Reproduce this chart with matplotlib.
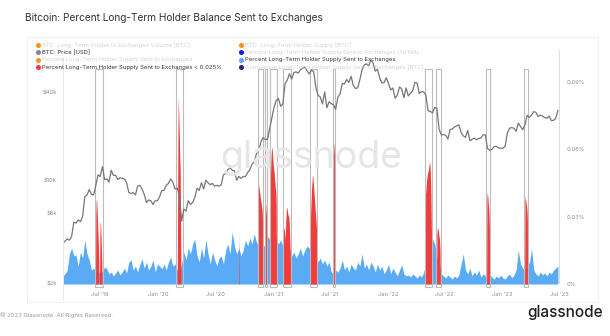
import matplotlib
matplotlib.use('Agg')
import matplotlib.pyplot as plt
import matplotlib.transforms as mtransforms
from matplotlib.patches import Rectangle
from matplotlib.lines import Line2D
import pandas as pd

plt.rcParams['font.family'] = ['Inter', 'DejaVu Sans']

# weekly BTC price (USD), Mondays from 2019-03-04
price = [
    3720, 3870, 4000, 3930, 4150, 5200, 5150, 5400, 5250, 5700, 7800, 8000, 8700,
    8100, 8000, 9300, 11000, 10700, 12500, 10200, 10300, 9800, 11800, 10900, 10900,
    10200, 10500, 10400, 10300, 9700, 8300, 8200, 8300, 8000, 9200, 9300, 8800, 8100,
    7100, 7400, 7300, 6900, 7300, 7300,
    # 2020
    7800, 8600, 8600, 9300, 9600, 10300, 9800, 8800, 8900, 7900, 5300, 6400, 6200,
    7300, 6900, 7100, 7700, 8900, 8600, 9700, 8800, 10100, 9700, 9400, 9600, 9200,
    9300, 9200, 9400, 11000, 11200, 11900, 12300, 11800, 11700, 10100, 10700, 10400,
    10700, 10700, 11400, 11900, 13000, 13500, 15300, 16000, 18400, 19700, 19200,
    19200, 22800, 27000,
    # 2021
    31900, 35500, 36600, 32300, 33500, 46200, 48700, 54000, 49600, 54900, 55600,
    54500, 57700, 58700, 59800, 56400, 53800, 57000, 55800, 43500, 38400, 37400,
    33500, 40500, 31600, 34700, 33700, 33100, 30800, 37300, 39200, 46300, 45900,
    49300, 47000, 51800, 44900, 42800, 43200, 49200, 57400, 62000, 63100, 61000,
    66900, 63900, 56200, 57800, 50500, 46700, 46900, 50700,
    # 2022
    46400, 41800, 43100, 36700, 38500, 43800, 42500, 37000, 43200, 38000, 39700,
    41300, 47100, 46600, 39500, 40800, 40400, 38500, 30100, 29800, 29100, 31800,
    31300, 22500, 20600, 20700, 20500, 19300, 22400, 22600, 23300, 23800, 24100,
    21400, 20300, 19800, 22100, 18800, 19200, 19600, 19100, 19500, 19600, 20600,
    20600, 16600, 16200, 16400, 17100, 17200, 16800, 16700,
    # 2023
    16700, 17200, 21200, 22900, 23100, 22900, 21800, 24800, 23500, 22400, 24100,
    28000, 27100, 28200, 29700, 29400, 27500, 28100, 27700, 27000, 26800, 27700,
    25800, 25900, 26800, 30300,
]

# weekly percent of LTH supply sent to exchanges (%)
lth_sent_pct = [
    0.0036, 0.0045, 0.0062, 0.0134, 0.0160, 0.0125, 0.0129, 0.0080, 0.0142, 0.0116,
    0.0196, 0.0134, 0.0107, 0.0062, 0.0071, 0.0053, 0.0045, 0.0062, 0.0053, 0.0076,
    0.0067, 0.0045, 0.0053, 0.0036, 0.0049, 0.0062, 0.0040, 0.0053, 0.0071, 0.0049,
    0.0098, 0.0107, 0.0062, 0.0080, 0.0053, 0.0089, 0.0111, 0.0071, 0.0098, 0.0062,
    0.0080, 0.0107, 0.0053, 0.0089, 0.0080, 0.0067, 0.0089, 0.0062, 0.0098, 0.0120,
    0.0080, 0.0089, 0.0062, 0.0053, 0.0089, 0.0142, 0.0107, 0.0160, 0.0134, 0.0178,
    0.0200, 0.0125, 0.0098, 0.0160, 0.0116, 0.0196, 0.0134, 0.0089, 0.0142, 0.0107,
    0.0080, 0.0116, 0.0125, 0.0089, 0.0151, 0.0178, 0.0134, 0.0231, 0.0169, 0.0134,
    0.0160, 0.0125, 0.0151, 0.0196, 0.0169, 0.0205, 0.0178, 0.0223, 0.0187, 0.0169,
    0.0200, 0.0178, 0.0160, 0.0214, 0.0196, 0.0187, 0.0223, 0.0205, 0.0178, 0.0196,
    0.0169, 0.0187, 0.0214, 0.0160, 0.0125, 0.0142, 0.0116, 0.0134, 0.0160, 0.0125,
    0.0151, 0.0169, 0.0160, 0.0142, 0.0165, 0.0134, 0.0098, 0.0116, 0.0089, 0.0107,
    0.0080, 0.0098, 0.0053, 0.0045, 0.0062, 0.0053, 0.0071, 0.0107, 0.0062, 0.0080,
    0.0053, 0.0089, 0.0071, 0.0062, 0.0098, 0.0080, 0.0134, 0.0071, 0.0089, 0.0062,
    0.0098, 0.0080, 0.0053, 0.0089, 0.0062, 0.0080, 0.0045, 0.0062, 0.0089, 0.0045,
    0.0071, 0.0053, 0.0036, 0.0062, 0.0085, 0.0045, 0.0036, 0.0040, 0.0031, 0.0045,
    0.0036, 0.0027, 0.0040, 0.0031, 0.0053, 0.0089, 0.0134, 0.0169, 0.0200, 0.0178,
    0.0120, 0.0098, 0.0045, 0.0036, 0.0027, 0.0040, 0.0031, 0.0022, 0.0036, 0.0027,
    0.0040, 0.0089, 0.0134, 0.0062, 0.0045, 0.0071, 0.0036, 0.0053, 0.0040, 0.0062,
    0.0031, 0.0045, 0.0036, 0.0027, 0.0045, 0.0031, 0.0022, 0.0036, 0.0027, 0.0040,
    0.0027, 0.0022, 0.0036, 0.0045, 0.0027, 0.0040, 0.0062, 0.0151, 0.0089, 0.0071,
    0.0053, 0.0120, 0.0089, 0.0160, 0.0062, 0.0045, 0.0036, 0.0053, 0.0040, 0.0049,
    0.0036, 0.0053, 0.0045, 0.0062, 0.0071, 0.0080,
]

# daily runs where the metric is flagged (< 0.025% signal), first day + values (%)
red_starts = ['2019-06-17', '2019-06-30', '2020-03-03', '2020-09-15', '2020-11-14',
              '2020-12-06', '2020-12-22', '2021-02-02', '2021-04-29', '2021-07-10',
              '2022-05-01', '2022-06-06', '2022-11-12', '2023-03-13']
red_values = [
    [0.030, 0.036, 0.038, 0.037, 0.034, 0.030, 0.026, 0.022, 0.018, 0.012],
    [0.022, 0.028, 0.027, 0.024, 0.020, 0.015, 0.010],
    [0.030, 0.060, 0.083, 0.080, 0.075, 0.070, 0.065, 0.050, 0.060, 0.040, 0.020],
    [0.024],
    [0.040, 0.045, 0.044, 0.043, 0.042, 0.041, 0.040, 0.039, 0.038, 0.037, 0.036,
     0.035, 0.034, 0.033, 0.030, 0.020],
    [0.030, 0.037, 0.036, 0.034, 0.032, 0.030, 0.028, 0.025],
    [0.040, 0.045, 0.050, 0.055, 0.058, 0.060, 0.061, 0.060, 0.058, 0.056, 0.054,
     0.052, 0.051, 0.050, 0.048, 0.046, 0.045, 0.043, 0.042, 0.040, 0.035],
    [0.020, 0.023, 0.025, 0.025, 0.024, 0.022, 0.020, 0.022, 0.026, 0.030, 0.033,
     0.034, 0.034, 0.033, 0.032, 0.031, 0.030, 0.031, 0.030, 0.028, 0.025, 0.020,
     0.015, 0.010],
    [0.025, 0.030, 0.034, 0.038, 0.041, 0.044, 0.046, 0.048, 0.0485, 0.047, 0.045,
     0.043, 0.041, 0.039, 0.037, 0.035, 0.033, 0.031, 0.029, 0.027, 0.025, 0.022,
     0.018],
    [0.062, 0.064, 0.063, 0.062, 0.060, 0.058, 0.056, 0.050],
    [0.040, 0.042, 0.044, 0.046, 0.047, 0.048, 0.049, 0.050, 0.050, 0.051, 0.052,
     0.053, 0.054, 0.054, 0.053, 0.050, 0.045, 0.040, 0.030, 0.020, 0.010],
    [0.022, 0.024, 0.025, 0.025, 0.024, 0.023, 0.022, 0.021, 0.020, 0.018, 0.015],
    [0.038, 0.0405, 0.040, 0.039, 0.037, 0.035, 0.033, 0.030, 0.025],
    [0.037, 0.039, 0.038, 0.037, 0.036, 0.035, 0.034, 0.032, 0.028],
]

# highlighted windows
box_starts = ['2019-06-14', '2020-02-26', '2020-11-13', '2020-12-05', '2020-12-21',
              '2021-01-31', '2021-04-27', '2021-07-09', '2022-04-30', '2022-06-04',
              '2022-11-10', '2023-03-11']
box_ends = ['2019-07-09', '2020-03-19', '2020-11-29', '2020-12-14', '2021-01-12',
            '2021-02-26', '2021-05-22', '2021-07-18', '2022-05-22', '2022-06-20',
            '2022-11-23', '2023-03-23']

price_ticks = [2000, 6000, 10000, 40000]
price_labels = ['$2k', '$6k', '$10k', '$40k']
pct_ticks = [0, 0.03, 0.06, 0.09]
pct_labels = ['0%', '0.03%', '0.06%', '0.09%']
date_ticks = ['2019-07-01', '2020-01-01', '2020-07-01', '2021-01-01', '2021-07-01',
              '2022-01-01', '2022-07-01', '2023-01-01', '2023-07-01']
date_labels = ["Jul '19", "Jan '20", "Jul '20", "Jan '21", "Jul '21",
               "Jan '22", "Jul '22", "Jan '23", "Jul '23"]

C_PRICE = '#767676'
C_BLUE = '#5aaaf5'
C_RED = '#f23c3c'
C_BOX = '#bcbcbc'
C_TICK = '#8c8c8c'

W, H = 610, 336
fig = plt.figure(figsize=(W / 100, H / 100), dpi=100)
fig.patch.set_facecolor('white')


def fx(px):
    return px / W


def fy(py):
    return 1 - py / H


# card outline and left divider
fig.add_artist(Rectangle((fx(27), fy(302)), fx(598) - fx(27), fy(37) - fy(302),
                         transform=fig.transFigure, fill=False, ec='#f0f0f0', lw=0.8))
fig.add_artist(Line2D([fx(62.5), fx(62.5)], [fy(58), fy(300)], transform=fig.transFigure,
                      color='#e8e8e8', lw=0.8))

# watermark
fig.text(fx(311), fy(158), 'glassnode', fontsize=27, color='#e6e6e6', ha='center',
         va='center', zorder=0)

x0, x1 = 62.8, 559.5
axp = fig.add_axes([fx(x0), fy(284), fx(x1) - fx(x0), fy(50) - fy(284)])
axp.patch.set_alpha(0)
ax = axp.twinx()

week_dates = pd.date_range('2019-03-04', periods=len(lth_sent_pct), freq='7D')
price_dates = pd.date_range('2019-03-04', periods=len(price), freq='7D')
xmin, xmax = pd.Timestamp('2019-03-04'), pd.Timestamp('2023-07-01')

# blue area
axp.fill_between(week_dates, 0, lth_sent_pct, color=C_BLUE, lw=0, zorder=1)

# red flagged runs
for start, vals in zip(red_starts, red_values):
    d = pd.date_range(pd.Timestamp(start) - pd.Timedelta(days=1), periods=len(vals) + 2)
    axp.fill_between(d, 0, [0] + vals + [0], color=C_RED, lw=0, zorder=2)

# window outlines
trans = mtransforms.blended_transform_factory(axp.transData, axp.transAxes)
for s, e in zip(box_starts, box_ends):
    s, e = pd.Timestamp(s), pd.Timestamp(e)
    axp.add_patch(Rectangle((s, -0.013), e - s, 0.93, transform=trans, fill=False,
                            ec=C_BOX, lw=0.8, clip_on=False, zorder=3))

axp.axvline(xmax, color='#555555', lw=1, zorder=5)

axp.set_xlim(xmin, xmax)
axp.set_ylim(0, 0.1042)
ax.set_yscale('log')
ax.set_ylim(1970, 78400)

ax.plot(price_dates, price, color=C_PRICE, lw=0.9, zorder=4)

# axes: left = price, right = percent
ax.yaxis.tick_left()
axp.yaxis.tick_right()
ax.set_yticks(price_ticks)
ax.set_yticklabels(price_labels)
ax.minorticks_off()
axp.set_yticks(pct_ticks)
axp.set_yticklabels(pct_labels)
axp.set_xticks(pd.to_datetime(date_ticks))
axp.set_xticklabels(date_labels)

for a in (ax, axp):
    for sp in a.spines.values():
        sp.set_visible(False)
ax.tick_params(axis='y', length=0, pad=4.2, labelsize=4.2, labelcolor=C_TICK)
axp.tick_params(axis='y', length=0, pad=5.3, labelsize=4.2, labelcolor=C_TICK)
axp.tick_params(axis='x', length=0, pad=5.5, labelsize=4.2, labelcolor=C_TICK)

# title
fig.text(fx(25), fy(18), 'Bitcoin: Percent Long-Term Holder Balance Sent to Exchanges',
         fontsize=7.3, color='#333333', va='center', ha='left')

# legend, two columns
legend_rows = [
    (38, 45, '#f7931a', 'BTC: Long-Term Holder to Exchanges Volume [BTC]', True),
    (38, 52.4, '#888888', 'BTC: Price [USD]', False),
    (38, 59.8, '#f7931a', 'Percent Long-Term Holder Supply Sent to Exchanges', True),
    (38, 67.2, C_RED, 'Percent Long-Term Holder Supply Sent to Exchanges < 0.025%', False),
    (240.5, 45, '#f7931a', 'BTC: Long-Term Holder Supply [BTC]', True),
    (240.5, 52.4, '#1a1ad6', 'Percent Long-Term Holder Supply Sent to Exchanges (7d MA)', True),
    (240.5, 59.8, C_BLUE, 'Percent Long-Term Holder Supply Sent to Exchanges', False),
    (240.5, 67.2, '#24208c', 'Cumulative Long-Term Holder Supply Sent to Exchanges [BTC]', True),
]
for lx, ly, col, label, faded in legend_rows:
    fig.add_artist(Line2D([fx(lx)], [fy(ly)], marker='o', ms=2.6, color=col, lw=0,
                          transform=fig.transFigure))
    fig.text(fx(lx + 4.5), fy(ly), label, fontsize=4.25, va='center', ha='left',
             color='#d2d2d2' if faded else '#333333')

# footer
fig.text(fx(0), fy(315), '\u00a9 2023 Glassnode. All Rights Reserved.', fontsize=4.3,
         color='#9a9a9a', va='center', ha='left')
fig.text(fx(603), fy(313), 'glassnode', fontsize=11, color='#1e1e1e', va='center',
         ha='right', fontweight='medium')

fig.savefig('out.png', dpi=100, facecolor='white')
